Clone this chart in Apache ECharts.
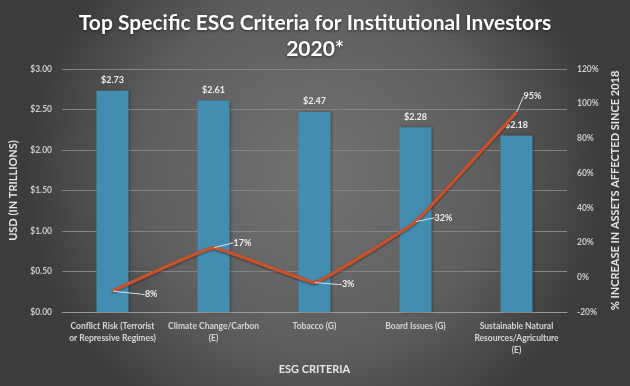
<!DOCTYPE html>
<html><head><meta charset="utf-8">
<script src="https://cdn.jsdelivr.net/npm/echarts@6/dist/echarts.min.js"></script>
<style>html,body{margin:0;padding:0;background:#555}#c{width:630px;height:386px}</style>
</head><body><div id="c"></div>
<script>
const categories = ['Conflict Risk (Terrorist\nor Repressive Regimes)', 'Climate Change/Carbon\n(E)', 'Tobacco (G)', 'Board Issues (G)', 'Sustainable Natural\nResources/Agriculture\n(E)'];
const usdTrillions = [2.73, 2.61, 2.47, 2.28, 2.18];
const pctIncrease = [-8, 17, -3, 32, 95];
const leftTicks = [0, 0.5, 1.0, 1.5, 2.0, 2.5, 3.0];
const rightTicks = [-20, 0, 20, 40, 60, 80, 100, 120];

const labelOffsets = [[37, 3], [29, -5], [32, 2], [28, -4], [16, -16]];

const chart = echarts.init(document.getElementById('c'));
const font = 'Lato, "Open Sans", sans-serif';
chart.setOption({
  backgroundColor: {type: 'radial', x: 0.5, y: 0.45, r: 0.75,
    colorStops: [{offset: 0, color: '#727272'}, {offset: 0.6, color: '#5e5e5e'}, {offset: 1, color: '#3c3c3c'}]},
  title: {text: 'Top Specific ESG Criteria for Institutional Investors\n2020*', left: 'center', top: 5,
    textStyle: {color: '#ffffff', fontSize: 21, fontWeight: 'bold', fontFamily: font, lineHeight: 26,
      textShadowColor: 'rgba(0,0,0,0.55)', textShadowBlur: 3, textShadowOffsetY: 1}},
  grid: {left: 62, right: 63, top: 69, bottom: 74, containLabel: false},
  xAxis: {type: 'category', data: categories,
    axisLine: {show: true, lineStyle: {color: '#9a9a9a', width: 1}},
    axisTick: {show: false},
    axisLabel: {color: '#d6d6d6', fontSize: 8.5, fontWeight: 'bold', fontFamily: font, interval: 0, lineHeight: 12, margin: 8},
    name: 'ESG CRITERIA', nameLocation: 'middle', nameGap: 52,
    nameTextStyle: {color: '#e6e6e6', fontSize: 11, fontWeight: 'bold', fontFamily: font}},
  yAxis: [
    {type: 'value', min: 0, max: 3, interval: 0.5,
      axisLabel: {color: '#cccccc', fontSize: 8.5, fontWeight: 'bold', fontFamily: font, margin: 10,
        formatter: v => '$' + v.toFixed(2)},
      splitLine: {lineStyle: {color: '#858585', width: 1}},
      axisLine: {show: false}, axisTick: {show: false},
      name: 'USD (IN TRILLIONS)', nameLocation: 'middle', nameGap: 33, nameRotate: 90,
      nameTextStyle: {color: '#e6e6e6', fontSize: 11, fontWeight: 'bold', fontFamily: font}},
    {type: 'value', min: -20, max: 120, interval: 20,
      axisLabel: {color: '#cccccc', fontSize: 8.5, fontWeight: 'bold', fontFamily: font, margin: 10,
        formatter: v => v + '%'},
      splitLine: {show: false}, axisLine: {show: false}, axisTick: {show: false},
      name: '% INCREASE IN ASSETS AFFECTED SINCE 2018', nameLocation: 'middle', nameGap: 33, nameRotate: 90,
      nameTextStyle: {color: '#e6e6e6', fontSize: 11, fontWeight: 'bold', fontFamily: font}}
  ],
  series: [
    {type: 'bar', data: usdTrillions, barWidth: 32, yAxisIndex: 0,
      itemStyle: {color: '#438db0', shadowColor: 'rgba(0,0,0,0.35)', shadowBlur: 3, shadowOffsetX: 1},
      label: {show: true, position: 'top', distance: 6, color: '#eeeeee', fontSize: 9, fontWeight: 'bold', fontFamily: font,
        formatter: p => '$' + p.value.toFixed(2)}},
    {type: 'line', data: pctIncrease, yAxisIndex: 1, smooth: 0.07, symbol: 'circle', symbolSize: 1, showSymbol: true, z: 5,
      itemStyle: {color: 'rgba(0,0,0,0)'},
      lineStyle: {color: '#c4532e', width: 3.5, shadowColor: 'rgba(0,0,0,0.45)', shadowBlur: 2, shadowOffsetY: 1},
      label: {show: true, position: 'inside', color: '#eeeeee', fontSize: 9, fontWeight: 'bold', fontFamily: font,
        formatter: p => p.value + '%'},
      labelLayout: p => ({dx: labelOffsets[p.dataIndex][0], dy: labelOffsets[p.dataIndex][1], hideOverlap: false}),
      labelLine: {show: true, showAbove: true, lineStyle: {color: '#cfe4ef', width: 1}, length2: 0}}
  ]
});
</script></body></html>
